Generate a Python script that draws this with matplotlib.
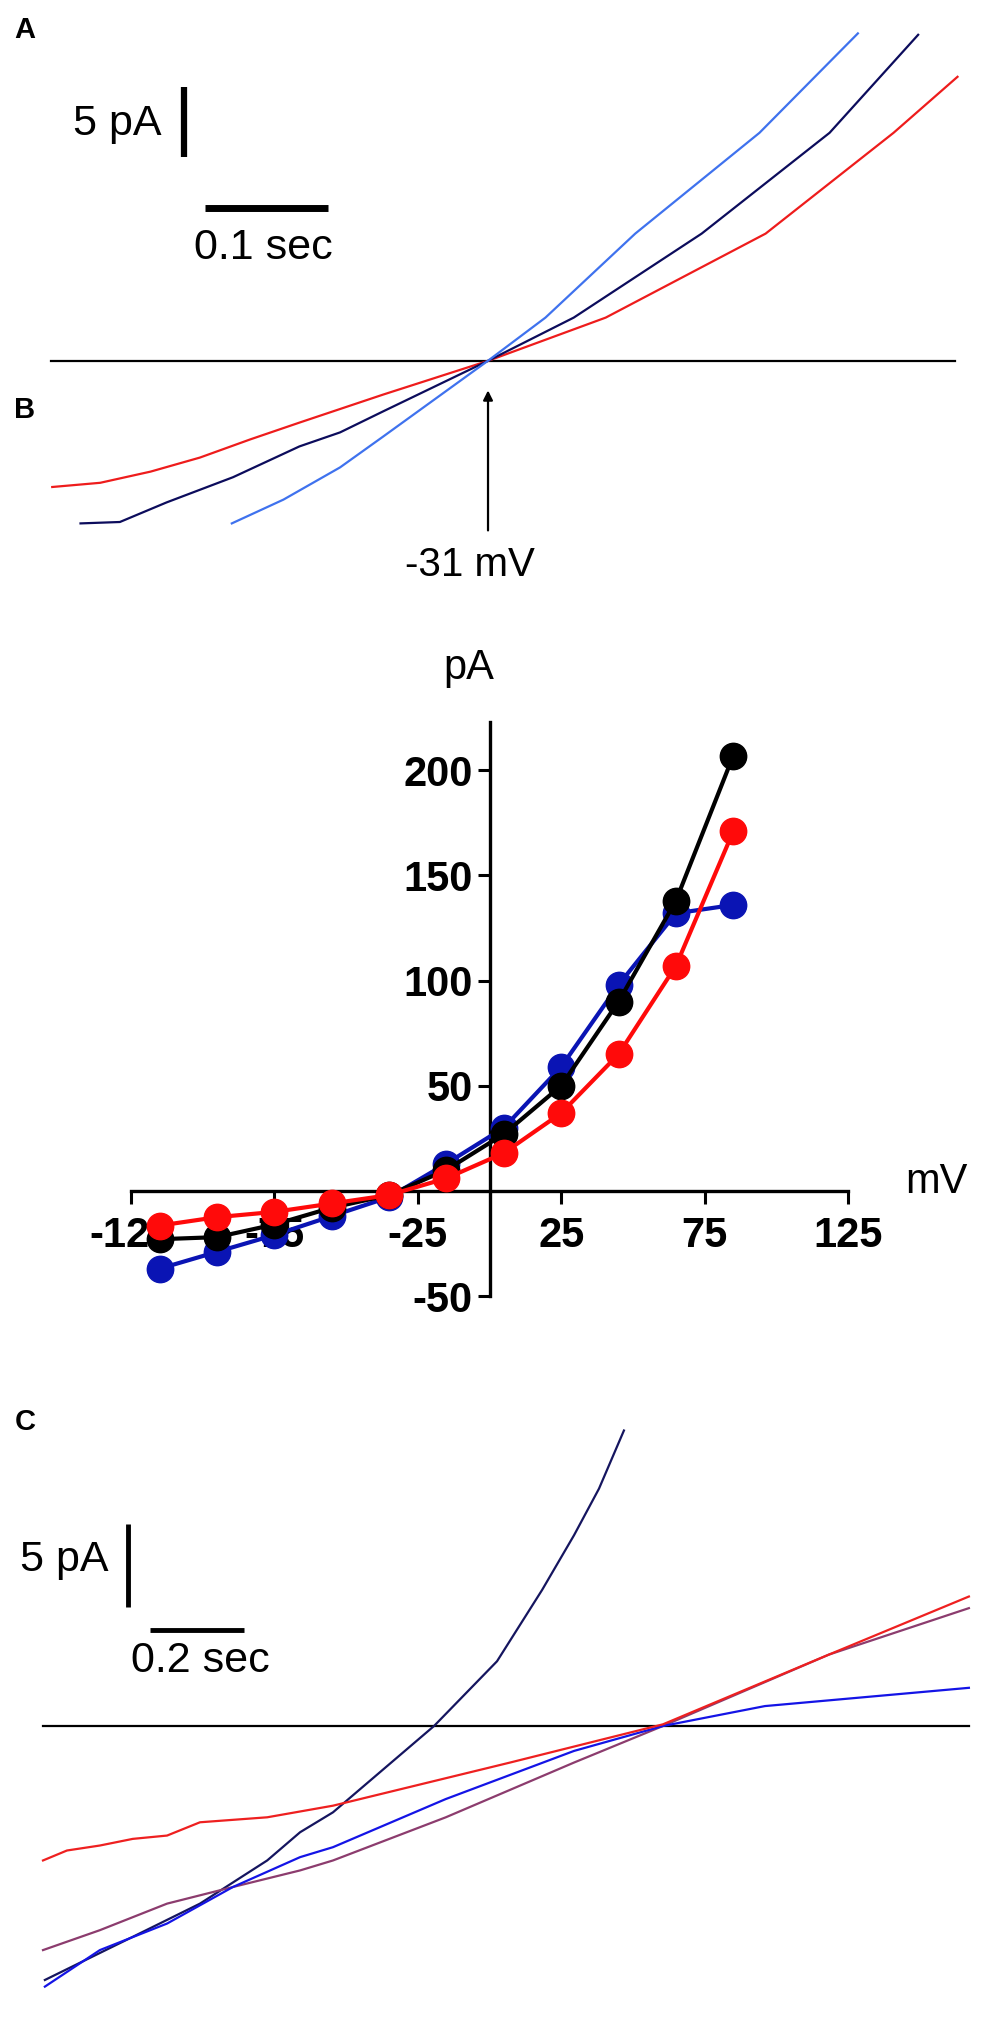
import matplotlib
matplotlib.use("Agg")
import matplotlib.pyplot as plt

plt.rcParams['font.family'] = ['Liberation Sans', 'DejaVu Sans']
plt.rcParams['axes.unicode_minus'] = False

# ---------------- Panel A: ramp current traces (time s, current pA) -------------
a_red_t = [0.001, 0.040, 0.081, 0.121, 0.162, 0.202, 0.270, 0.355, 0.451, 0.581, 0.685, 0.737]
a_red_i = [-9.0, -8.7, -7.9, -6.9, -5.6, -4.4, -2.4, 0.0, 3.1, 9.1, 16.3, 20.3]
a_navy_t = [0.024, 0.056, 0.094, 0.148, 0.202, 0.235, 0.270, 0.355, 0.425, 0.529, 0.633, 0.705]
a_navy_i = [-11.6, -11.5, -10.1, -8.3, -6.1, -5.1, -3.6, 0.0, 3.1, 9.1, 16.3, 23.3]
a_lblue_t = [0.147, 0.189, 0.235, 0.270, 0.355, 0.402, 0.475, 0.576, 0.656]
a_lblue_i = [-11.6, -9.9, -7.6, -5.4, 0.0, 3.1, 9.1, 16.3, 23.4]
a_reversal_label = "-31 mV"

# ---------------- Panel B: I-V relation ------------------------------------------
iv_mv = [-115, -95, -75, -55, -35, -15, 5, 25, 45, 65, 85]
iv_black = [-23, -22, -16, -8, -2, 10, 27, 50, 90, 138, 207]
iv_red = [-16.5, -12.5, -10, -6, -2, 6, 18, 37, 65, 107, 171]
iv_blue = [-37, -29, -21, -12, -3, 13, 30, 59, 98, 132, 136]
iv_xticks = [-125, -75, -25, 25, 75, 125]
iv_yticks = [-50, 50, 100, 150, 200]

# ---------------- Panel C: ramp current traces -----------------------------------
c_navy_t = [0.004, 0.191, 0.334, 0.477, 0.547, 0.617, 0.832, 0.966, 1.062, 1.130, 1.183, 1.236]
c_navy_i = [-15.3, -12.7, -10.7, -8.1, -6.4, -5.2, 0.0, 3.9, 8.2, 11.5, 14.3, 17.8]
c_red_t = [0.0, 0.051, 0.121, 0.191, 0.264, 0.334, 0.477, 0.617, 0.994, 1.319, 1.672, 1.970]
c_red_i = [-8.1, -7.5, -7.2, -6.8, -6.6, -5.8, -5.5, -4.8, -2.2, 0.1, 4.3, 7.8]
c_purple_t = [0.0, 0.121, 0.264, 0.404, 0.547, 0.617, 0.857, 1.130, 1.319, 1.672, 1.970]
c_purple_i = [-13.5, -12.3, -10.7, -9.7, -8.7, -8.1, -5.5, -2.2, 0.0, 4.3, 7.1]
c_blue_t = [0.004, 0.121, 0.264, 0.404, 0.547, 0.617, 0.857, 1.130, 1.319, 1.536, 1.970]
c_blue_i = [-15.7, -13.5, -11.9, -9.7, -7.9, -7.3, -4.4, -1.5, 0.0, 1.2, 2.3]

W, H = 1000, 2021
fig = plt.figure(figsize=(W / 100, H / 100), dpi=100)

def fx(px):
    return px / W

def fy(py):
    return 1 - py / H

txt_kw = dict(fontsize=31, color='black')
trace_lw = 1.6

# ---------------- Axes A ----------------
axA = fig.add_axes([0, fy(620), 1, 620 / H])
axA.set_xlim(-51 / 1230, (1000 - 51) / 1230)
axA.set_ylim((361 - 620) / 14, 361 / 14)
axA.axis('off')
axA.plot([0, 0.735], [0, 0], color='black', lw=1.6)
axA.plot(a_red_t, a_red_i, color='#ee1c1c', lw=trace_lw)
axA.plot(a_navy_t, a_navy_i, color='#0c0c5c', lw=trace_lw)
axA.plot(a_lblue_t, a_lblue_i, color='#3f72ee', lw=trace_lw)
# scale bars
axA.plot([0.108, 0.108], [14.57, 19.57], color='black', lw=4.5, solid_capstyle='butt')
axA.plot([0.1252, 0.2252], [10.93, 10.93], color='black', lw=5, solid_capstyle='butt')
axA.text(0.0900, 16.9, '5 pA', ha='right', va='center', **txt_kw)
axA.text(0.1724, 8.1, '0.1 sec', ha='center', va='center', **txt_kw)
# arrow at reversal
axA.annotate('', xy=(0.3553, -1.9), xytext=(0.3553, -12.3),
             arrowprops=dict(arrowstyle='-|>', color='black', lw=1.6,
                             mutation_scale=14))
axA.text(0.3407, -14.6, a_reversal_label, ha='center', va='center',
         fontsize=29)

# ---------------- Axes B (IV) ----------------
axB = fig.add_axes([fx(131), fy(1296), fx(848) - fx(131), (1296 - 722) / H])
axB.set_xlim(-125, 125)
axB.set_ylim(-50, 223)
for s in ['top', 'right']:
    axB.spines[s].set_visible(False)
axB.spines['left'].set_position(('data', 0))
axB.spines['bottom'].set_position(('data', 0))
for s in ['left', 'bottom']:
    axB.spines[s].set_linewidth(2.4)
axB.set_xticks(iv_xticks)
axB.set_yticks(iv_yticks)
axB.tick_params(axis='both', direction='out', length=9, width=2.2,
                labelsize=30)
axB.tick_params(axis='x', pad=9)
axB.tick_params(axis='y', pad=3)
for lab in axB.get_xticklabels() + axB.get_yticklabels():
    lab.set_fontweight('bold')
mk = dict(marker='o', markersize=19, lw=3, clip_on=False, zorder=3)
axB.plot(iv_mv, iv_blue, color='#0a14b4', **mk)
axB.plot(iv_mv, iv_black, color='black', **mk)
axB.plot(iv_mv, iv_red, color='#ff0a0a', **mk)
fig.text(fx(469), fy(668), 'pA', ha='center', va='center', fontsize=30)
fig.text(fx(905), fy(1182), 'mV', ha='left', va='center', fontsize=30)

# ---------------- Axes C ----------------
axC = fig.add_axes([0, 0, 1, (2021 - 1380) / H])
axC.set_xlim(-43 / 470, (1000 - 43) / 470)
axC.set_ylim((1726 - 2021) / 16.6, (1726 - 1380) / 16.6)
axC.axis('off')
axC.plot([0, 1.970], [0, 0], color='black', lw=1.6)
axC.plot(c_navy_t, c_navy_i, color='#15155f', lw=trace_lw)
axC.plot(c_purple_t, c_purple_i, color='#8c3c6e', lw=trace_lw)
axC.plot(c_blue_t, c_blue_i, color='#1414e6', lw=trace_lw)
axC.plot(c_red_t, c_red_i, color='#ee2020', lw=trace_lw)
axC.plot([0.181, 0.181], [7.17, 12.17], color='black', lw=3.5, solid_capstyle='butt')
axC.plot([0.2277, 0.4277], [5.78, 5.78], color='black', lw=3.5, solid_capstyle='butt')
axC.text(0.140, 10.0, '5 pA', ha='right', va='center', **txt_kw)
axC.text(0.334, 3.9, '0.2 sec', ha='center', va='center', **txt_kw)

# ---------------- Panel letters ----------------
lab_kw = dict(fontsize=21, fontweight='bold', ha='center', va='center')
fig.text(fx(25), fy(30), 'A', **lab_kw)
fig.text(fx(25), fy(410), 'B', **lab_kw)
fig.text(fx(25), fy(1422), 'C', **lab_kw)

fig.savefig('out.png', dpi=100, facecolor='white')
